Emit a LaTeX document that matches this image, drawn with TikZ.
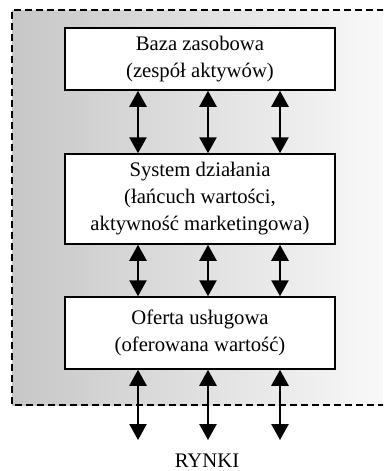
\documentclass[tikz,border=0pt]{standalone}
\usepackage{fontspec}
\setmainfont{Liberation Serif}
\usetikzlibrary{arrows.meta}

\begin{document}
\begin{tikzpicture}[x=1pt,y=-1pt,
		box/.style={draw, line width=1.5pt, fill=white, minimum width=270pt, align=center, font=\fontsize{20.7}{27}\selectfont},
		dwa/.style={line width=2.5pt, {Triangle[width=17pt,length=16pt]}-{Triangle[width=17pt,length=16pt]}}]
		\useasboundingbox (0,0) rectangle (383,471);
		\clip (0,0) rectangle (383,471);
		\shade[left color=black!22, right color=black!2] (12,10) rectangle (395,405);
		\draw [line width=1.3pt, dash pattern=on 7pt off 4pt](395,10)--(12,10)--(12,405)--(395,405);
		\node (baza)[box, minimum height=62pt] at (200,59) {Baza zasobowa\\(zespół aktywów)};
		\node (system)[box, minimum height=90pt] at (200,199) {System działania\\(łańcuch wartości,\\aktywność marketingowa)};
		\node (oferta)[box, minimum height=72pt] at (200,333) {Oferta usługowa\\(oferowana wartość)};
		\node (rynki)[font=\fontsize{20.7}{27}\selectfont] at (207,461) {RYNKI};
		\coordinate (k1) at (138,440);
		\coordinate (k2) at (208,440);
		\coordinate (k3) at (280,440);
		\draw [dwa]([xshift=-62pt]baza.south)--([xshift=-62pt]system.north);
		\draw [dwa]([xshift=8pt]baza.south)--([xshift=8pt]system.north);
		\draw [dwa]([xshift=80pt]baza.south)--([xshift=80pt]system.north);
		\draw [dwa]([xshift=-62pt]system.south)--([xshift=-62pt]oferta.north);
		\draw [dwa]([xshift=8pt]system.south)--([xshift=8pt]oferta.north);
		\draw [dwa]([xshift=80pt]system.south)--([xshift=80pt]oferta.north);
		\draw [dwa]([xshift=-62pt]oferta.south)--(k1);
		\draw [dwa]([xshift=8pt]oferta.south)--(k2);
		\draw [dwa]([xshift=80pt]oferta.south)--(k3);
	\end{tikzpicture}
\end{document}
